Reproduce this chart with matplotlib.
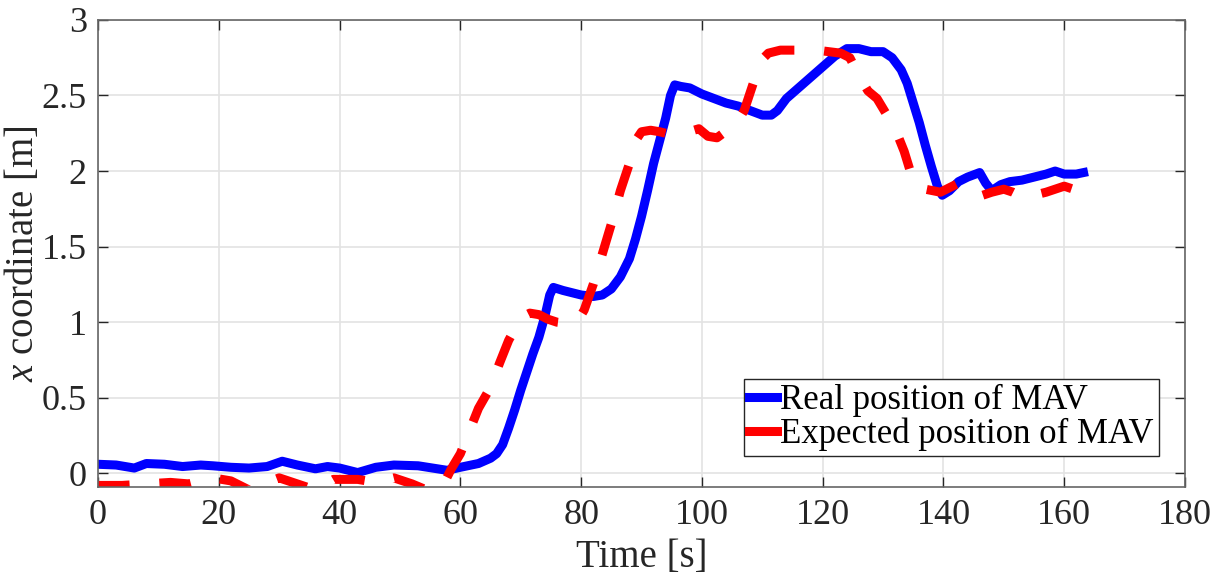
import matplotlib.pyplot as plt
import numpy as np

serif = ['Liberation Serif', 'DejaVu Serif']
plt.rcParams['font.family'] = serif
plt.rcParams['mathtext.fontset'] = 'custom'
plt.rcParams['mathtext.rm'] = 'Liberation Serif'
plt.rcParams['mathtext.it'] = 'Liberation Serif:italic'

# measured MAV position
t_real = [0, 3, 6, 8, 11, 14, 17, 19, 22, 25, 28, 30.5, 33, 36, 38, 40, 43, 46, 49,
          53, 57.8, 60, 63, 65, 66, 67, 68, 69, 70, 71, 72, 73, 74, 74.8, 75.4, 76.2,
          77, 78, 80, 82, 83.5, 85, 86.5, 88, 89, 90, 91, 92, 93, 94, 94.8, 95.5,
          96.5, 98, 100, 102, 104, 106, 108, 110, 111.5, 112.5, 114, 116, 118, 120,
          122, 124, 126, 128, 130, 131.5, 133, 134, 135, 136, 137, 138, 139, 139.8,
          141, 142.5, 144, 146, 147, 148, 149.5, 151, 153, 155, 157, 158.5, 160, 162,
          163.2]
x_real = [0.06, 0.055, 0.035, 0.065, 0.06, 0.045, 0.055, 0.05, 0.04, 0.035, 0.045, 0.08,
          0.055, 0.03, 0.045, 0.035, 0.005, 0.04, 0.055, 0.05, 0.02, 0.04, 0.065, 0.1,
          0.13, 0.19, 0.3, 0.42, 0.55, 0.67, 0.79, 0.9, 1.04, 1.18, 1.23, 1.22, 1.21,
          1.2, 1.18, 1.17, 1.18, 1.22, 1.3, 1.42, 1.55, 1.7, 1.87, 2.05, 2.2, 2.35, 2.5,
          2.57, 2.56, 2.55, 2.51, 2.48, 2.45, 2.43, 2.4, 2.37, 2.37, 2.4, 2.48, 2.55,
          2.62, 2.69, 2.76, 2.81, 2.81, 2.79, 2.79, 2.75, 2.67, 2.58, 2.45, 2.32, 2.17,
          2.03, 1.9, 1.84, 1.87, 1.93, 1.96, 1.99, 1.92, 1.87, 1.91, 1.93, 1.94, 1.96,
          1.98, 2.0, 1.98, 1.98, 1.99]

# expected MAV position
t_exp = [0, 4, 8, 12, 15, 19, 22, 25, 28, 30, 33, 36, 39, 43, 46, 49, 52, 55, 57.5,
         58.5, 60, 61.5, 63, 65, 66.5, 68, 69.5, 70.5, 71.5, 73, 74.5, 76, 78, 79.3,
         80.5, 82, 83.5, 85, 86.5, 88, 89, 90, 91.5, 93, 95, 97, 99.5, 101, 102.5,
         104.2, 105.5, 107, 108.5, 110, 111, 113, 116, 119, 121, 123, 124.5, 126,
         127.5, 129, 130.5, 132, 133.5, 134.5, 135.5, 137, 139.5, 141, 142.5, 144.5,
         146.5, 148, 150, 151.5, 153, 155, 157, 160, 161.5, 163]
x_exp = [-0.08, -0.08, -0.07, -0.06, -0.07, -0.03, -0.05, -0.11, -0.06, -0.03, -0.07,
         -0.11, -0.04, -0.04, -0.06, -0.03, -0.07, -0.12, -0.05, 0.03, 0.13, 0.28,
         0.43, 0.57, 0.73, 0.88, 0.99, 1.04, 1.06, 1.05, 1.02, 1.0, 0.99, 1.0, 1.08,
         1.25, 1.45, 1.65, 1.87, 2.05, 2.2, 2.26, 2.27, 2.26, 2.24, 2.25, 2.28, 2.23,
         2.22, 2.27, 2.3, 2.4, 2.58, 2.74, 2.78, 2.8, 2.8, 2.8, 2.79, 2.78, 2.75, 2.63,
         2.53, 2.48, 2.38, 2.28, 2.13, 2.0, 1.9, 1.88, 1.86, 1.89, 1.92, 1.88, 1.84,
         1.86, 1.88, 1.86, 1.83, 1.84, 1.86, 1.9, 1.88, 1.85]

x_ticks = np.arange(0, 181, 20)
y_ticks = [0, 0.5, 1, 1.5, 2, 2.5, 3]
y_ticklabels = ['0', '0.5', '1', '1.5', '2', '2.5', '3']

fig = plt.figure(figsize=(12.21, 5.79), dpi=100)
ax = fig.add_axes([0.0803, 0.159, 0.8902, 0.8066])

ax.plot(t_real, x_real, color='#0000ff', lw=6.5, solid_joinstyle='round',
        label='Real position of MAV')
ax.plot(t_exp, x_exp, color='#ff0000', lw=6.5, dashes=(3.5, 3.3),
        dash_capstyle='butt', label='Expected position of MAV')

ax.set_xlim(0, 180)
ax.set_ylim(-0.09, 3)
ax.set_xticks(x_ticks)
ax.set_xticklabels([str(v) for v in x_ticks])
ax.set_yticks(y_ticks)
ax.set_yticklabels(y_ticklabels)
ax.grid(True, color='#e3e3e3', lw=1.2)
ax.set_axisbelow(True)

for s in ax.spines.values():
    s.set_color('#666666')
    s.set_linewidth(1.2)
ax.tick_params(direction='in', length=7, width=1, colors='#262626',
               labelsize=26, top=True, right=True)
ax.tick_params(axis='y', pad=8)
ax.tick_params(axis='x', pad=9)

ax.set_xlabel('Time [s]', fontsize=28, color='#262626', labelpad=5)
ax.set_ylabel('$x$ coordinate [m]', fontsize=28, color='#262626', labelpad=0)

leg = ax.legend(loc='lower right', bbox_to_anchor=(0.976, 0.066), fontsize=25,
                handlelength=0.8, handletextpad=0.1, borderpad=0.15,
                labelspacing=0.0, fancybox=False, framealpha=1,
                edgecolor='#262626', borderaxespad=0)
leg.get_frame().set_linewidth(1)
for line in leg.get_lines():
    line.set_linestyle('-')
    line.set_linewidth(6.5)

fig.savefig('out.png', dpi=100)
